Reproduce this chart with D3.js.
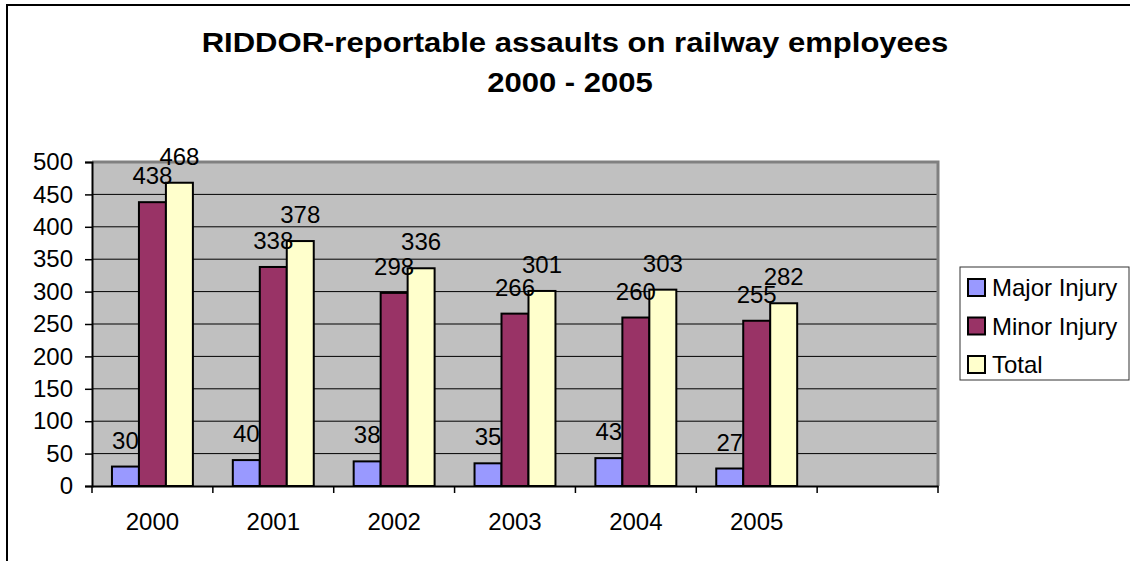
<!DOCTYPE html>
<html>
<head>
<meta charset="utf-8">
<script src="https://cdn.jsdelivr.net/npm/d3@7"></script>
<style>
  html, body { margin: 0; padding: 0; background: #fff; }
  svg { display: block; font-family: Arial, "Liberation Sans", sans-serif; }
</style>
</head>
<body>
<div id="chart"></div>
<script>
const years = ['2000', '2001', '2002', '2003', '2004', '2005', ''];
const seriesNames = ['Major Injury', 'Minor Injury', 'Total'];
const majorInjury = [30, 40, 38, 35, 43, 27];
const minorInjury = [438, 338, 298, 266, 260, 255];
const total = [468, 378, 336, 301, 303, 282];
const seriesColors = ['#9999FF', '#993366', '#FFFFCC'];
const yTicks = [0, 50, 100, 150, 200, 250, 300, 350, 400, 450, 500];

const width = 1130, height = 561;
const plot = { left: 92, top: 162, right: 938, bottom: 486 };
const labelFont = 24;

const svg = d3.select('#chart').append('svg')
  .attr('width', width).attr('height', height);

// outer chart border (only left and top visible)
svg.append('path')
  .attr('d', `M7,${height} V5 H${width}`)
  .attr('fill', 'none').attr('stroke', '#000').attr('stroke-width', 2);

// title, a bit wider than the plain font
const titleLines = [
  { text: 'RIDDOR-reportable assaults on railway employees', cx: 575, y: 52 },
  { text: '2000 - 2005', cx: 570, y: 92 },
];
svg.append('g').selectAll('text').data(titleLines).join('text')
  .attr('transform', d => `translate(${d.cx},${d.y}) scale(1.15,1)`)
  .attr('text-anchor', 'middle').attr('font-weight', 'bold')
  .attr('font-size', 27).attr('fill', '#000')
  .text(d => d.text);

const x = d3.scaleBand().domain(years).range([plot.left, plot.right]);
const y = d3.scaleLinear().domain([0, 500]).range([plot.bottom, plot.top]);

// plot background
svg.append('rect')
  .attr('x', plot.left).attr('y', plot.top)
  .attr('width', plot.right - plot.left).attr('height', plot.bottom - plot.top)
  .attr('fill', '#C0C0C0');

// gridlines
svg.append('g').selectAll('line').data(yTicks.slice(1))
  .join('line')
  .attr('x1', plot.left).attr('x2', plot.right)
  .attr('y1', d => y(d)).attr('y2', d => y(d))
  .attr('stroke', '#000').attr('stroke-width', 1);

// plot border, gray
svg.append('path')
  .attr('d', `M${plot.left},${plot.top} H${plot.right} V${plot.bottom}`)
  .attr('fill', 'none').attr('stroke', '#808080').attr('stroke-width', 3);

const rows = years.slice(0, 6).map((yr, i) => ({
  year: yr, values: [majorInjury[i], minorInjury[i], total[i]]
}));

const inner = d3.scaleBand().domain(d3.range(3))
  .range([0, x.bandwidth()]).paddingOuter(0.74).paddingInner(0);

const groups = svg.append('g').selectAll('g').data(rows).join('g')
  .attr('transform', d => `translate(${x(d.year)},0)`);

groups.selectAll('rect').data(d => d.values).join('rect')
  .attr('x', (d, i) => inner(i))
  .attr('y', d => y(d))
  .attr('width', inner.bandwidth())
  .attr('height', d => y(0) - y(d))
  .attr('fill', (d, i) => seriesColors[i])
  .attr('stroke', '#000').attr('stroke-width', 2);

groups.selectAll('text').data(d => d.values).join('text')
  .attr('x', (d, i) => inner(i) + inner.bandwidth() / 2)
  .attr('y', d => y(d) - 18)
  .attr('text-anchor', 'middle')
  .attr('font-size', labelFont).attr('fill', '#000')
  .text(d => d);

// y axis
const yAxisG = svg.append('g').attr('transform', `translate(${plot.left},0)`);
yAxisG.call(d3.axisLeft(y).tickValues(yTicks).tickSize(7).tickPadding(12))
  .call(g => g.select('.domain').attr('stroke', '#000').attr('stroke-width', 2))
  .call(g => g.selectAll('.tick line').attr('stroke', '#000').attr('stroke-width', 1.5))
  .call(g => g.selectAll('.tick text').attr('font-size', labelFont).attr('fill', '#000')
    .attr('font-family', 'Arial, "Liberation Sans", sans-serif'));

// x axis
const xAxisG = svg.append('g').attr('transform', `translate(0,${plot.bottom})`);
xAxisG.call(d3.axisBottom(x).tickSize(0).tickPadding(27))
  .call(g => g.select('.domain').attr('stroke', '#000').attr('stroke-width', 2))
  .call(g => g.selectAll('.tick text').attr('font-size', labelFont).attr('fill', '#000')
    .attr('font-family', 'Arial, "Liberation Sans", sans-serif'));
// category boundary ticks
xAxisG.selectAll('line.sep').data(d3.range(years.length + 1))
  .join('line').attr('class', 'sep')
  .attr('x1', i => plot.left + i * x.step()).attr('x2', i => plot.left + i * x.step())
  .attr('y1', 0).attr('y2', 7)
  .attr('stroke', '#000').attr('stroke-width', 1.5);

// legend
const legend = svg.append('g').attr('transform', 'translate(960,267)');
legend.append('rect')
  .attr('width', 169).attr('height', 113)
  .attr('fill', '#fff').attr('stroke', '#333').attr('stroke-width', 1);
const items = legend.selectAll('g.item').data(seriesNames).join('g')
  .attr('class', 'item')
  .attr('transform', (d, i) => `translate(8,${12 + i * 38.5})`);
items.append('rect')
  .attr('width', 17).attr('height', 17)
  .attr('fill', (d, i) => seriesColors[i])
  .attr('stroke', '#000').attr('stroke-width', 2);
items.append('text')
  .attr('x', 24).attr('y', 17)
  .attr('font-size', labelFont).attr('fill', '#000')
  .text(d => d);
</script>
</body>
</html>
